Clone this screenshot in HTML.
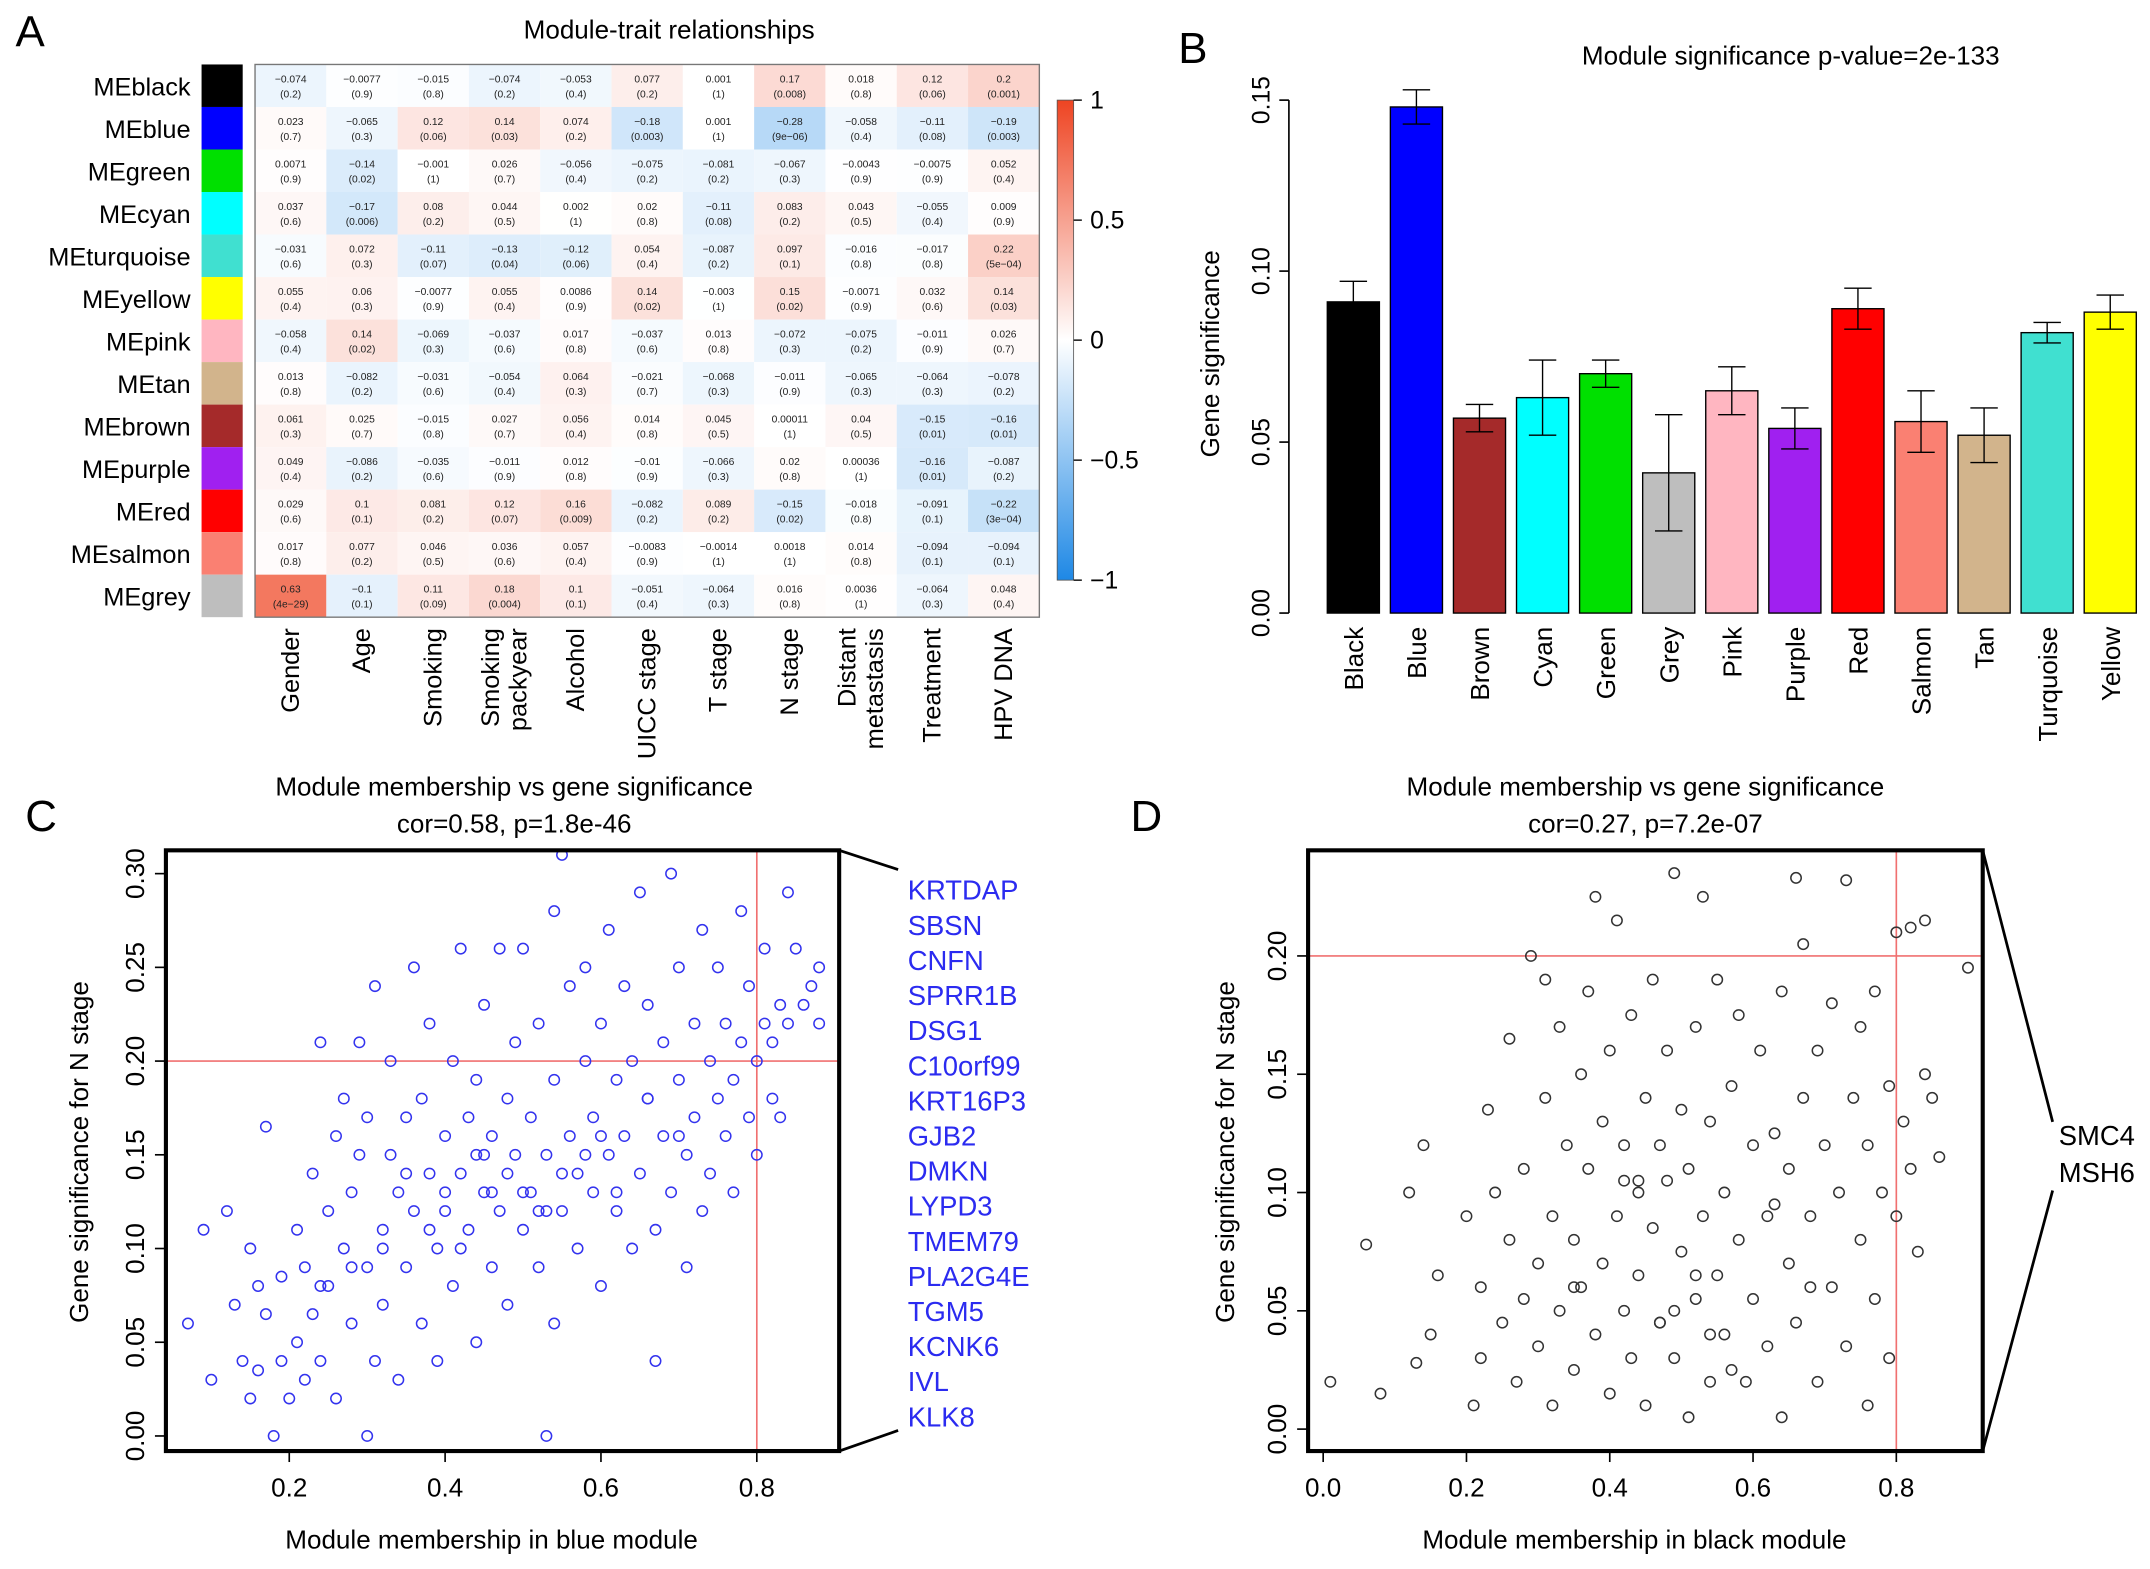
<!DOCTYPE html>
<html><head><meta charset="utf-8"><style>
html,body{margin:0;padding:0;background:#fff;}
svg{display:block;font-family:"Liberation Sans",Arial,sans-serif;}
</style></head><body>
<svg id="fig" width="2150" height="1569" viewBox="0 0 1568 1144" preserveAspectRatio="none" xmlns="http://www.w3.org/2000/svg">
<rect width="1568" height="1144" fill="#fff"/>
<g id="pA"></g>
<g id="pB"></g>
<g id="pC"></g>
<g id="pD"></g>
</svg>
<script>
// ---------- Panel A data ----------
const modules = ["MEblack","MEblue","MEgreen","MEcyan","MEturquoise","MEyellow","MEpink","MEtan","MEbrown","MEpurple","MEred","MEsalmon","MEgrey"];
const moduleColors = ["#000000","#0000ff","#00e000","#00ffff","#40e0d0","#ffff00","#ffb6c1","#d2b48c","#a52a2a","#a020f0","#ff0000","#fa8072","#bebebe"];
const traits = [["Gender"],["Age"],["Smoking"],["Smoking","packyear"],["Alcohol"],["UICC stage"],["T stage"],["N stage"],["Distant","metastasis"],["Treatment"],["HPV DNA"]];
const corVals = [
["-0.074","-0.0077","-0.015","-0.074","-0.053","0.077","0.001","0.17","0.018","0.12","0.2"],
["0.023","-0.065","0.12","0.14","0.074","-0.18","0.001","-0.28","-0.058","-0.11","-0.19"],
["0.0071","-0.14","-0.001","0.026","-0.056","-0.075","-0.081","-0.067","-0.0043","-0.0075","0.052"],
["0.037","-0.17","0.08","0.044","0.002","0.02","-0.11","0.083","0.043","-0.055","0.009"],
["-0.031","0.072","-0.11","-0.13","-0.12","0.054","-0.087","0.097","-0.016","-0.017","0.22"],
["0.055","0.06","-0.0077","0.055","0.0086","0.14","-0.003","0.15","-0.0071","0.032","0.14"],
["-0.058","0.14","-0.069","-0.037","0.017","-0.037","0.013","-0.072","-0.075","-0.011","0.026"],
["0.013","-0.082","-0.031","-0.054","0.064","-0.021","-0.068","-0.011","-0.065","-0.064","-0.078"],
["0.061","0.025","-0.015","0.027","0.056","0.014","0.045","0.00011","0.04","-0.15","-0.16"],
["0.049","-0.086","-0.035","-0.011","0.012","-0.01","-0.066","0.02","0.00036","-0.16","-0.087"],
["0.029","0.1","0.081","0.12","0.16","-0.082","0.089","-0.15","-0.018","-0.091","-0.22"],
["0.017","0.077","0.046","0.036","0.057","-0.0083","-0.0014","0.0018","0.014","-0.094","-0.094"],
["0.63","-0.1","0.11","0.18","0.1","-0.051","-0.064","0.016","0.0036","-0.064","0.048"]];
const pVals = [
["0.2","0.9","0.8","0.2","0.4","0.2","1","0.008","0.8","0.06","0.001"],
["0.7","0.3","0.06","0.03","0.2","0.003","1","9e-06","0.4","0.08","0.003"],
["0.9","0.02","1","0.7","0.4","0.2","0.2","0.3","0.9","0.9","0.4"],
["0.6","0.006","0.2","0.5","1","0.8","0.08","0.2","0.5","0.4","0.9"],
["0.6","0.3","0.07","0.04","0.06","0.4","0.2","0.1","0.8","0.8","5e-04"],
["0.4","0.3","0.9","0.4","0.9","0.02","1","0.02","0.9","0.6","0.03"],
["0.4","0.02","0.3","0.6","0.8","0.6","0.8","0.3","0.2","0.9","0.7"],
["0.8","0.2","0.6","0.4","0.3","0.7","0.3","0.9","0.3","0.3","0.2"],
["0.3","0.7","0.8","0.7","0.4","0.8","0.5","1","0.5","0.01","0.01"],
["0.4","0.2","0.6","0.9","0.8","0.9","0.3","0.8","1","0.01","0.2"],
["0.6","0.1","0.2","0.07","0.009","0.2","0.2","0.02","0.8","0.1","3e-04"],
["0.8","0.2","0.5","0.6","0.4","0.9","1","1","0.8","0.1","0.1"],
["4e-29","0.1","0.09","0.004","0.1","0.4","0.3","0.8","1","0.3","0.4"]];
const cbTicks = [1,0.5,0,-0.5,-1];
const cbTickLabels = ["1","0.5","0","\u22120.5","\u22121"];

// ---------- Panel B data ----------
const barCats = ["Black","Blue","Brown","Cyan","Green","Grey","Pink","Purple","Red","Salmon","Tan","Turquoise","Yellow"];
const barColors = ["#000000","#0000ff","#a52a2a","#00ffff","#00e000","#bebebe","#ffb6c1","#a020f0","#ff0000","#fa8072","#d2b48c","#40e0d0","#ffff00"];
const barVals = [0.091,0.148,0.057,0.063,0.070,0.041,0.065,0.054,0.089,0.056,0.052,0.082,0.088];
const barErr = [0.006,0.005,0.004,0.011,0.004,0.017,0.007,0.006,0.006,0.009,0.008,0.003,0.005];
const bTicks = [0,0.05,0.10,0.15];
const bTickLabels = ["0.00","0.05","0.10","0.15"];

// ---------- Panel C data ----------
const cX = [0.07,0.09,0.10,0.12,0.13,0.14,0.15,0.15,0.16,0.16,0.17,0.17,0.18,0.19,0.19,0.20,0.21,0.21,0.22,0.22,0.23,0.23,0.24,0.24,0.25,0.25,0.26,0.26,0.27,0.27,0.28,0.28,0.29,0.29,0.30,0.30,0.30,0.31,0.31,0.32,0.32,0.33,0.33,0.34,0.34,0.35,0.35,0.36,0.36,0.37,0.37,0.38,0.38,0.39,0.39,0.40,0.40,0.41,0.41,0.42,0.42,0.43,0.43,0.44,0.44,0.45,0.45,0.46,0.46,0.47,0.47,0.48,0.48,0.49,0.49,0.50,0.50,0.51,0.51,0.52,0.52,0.53,0.53,0.54,0.54,0.54,0.55,0.55,0.56,0.56,0.57,0.57,0.58,0.58,0.59,0.59,0.60,0.60,0.61,0.61,0.62,0.62,0.63,0.63,0.64,0.64,0.65,0.65,0.66,0.66,0.67,0.67,0.68,0.68,0.69,0.69,0.70,0.70,0.71,0.71,0.72,0.72,0.73,0.73,0.74,0.74,0.75,0.75,0.76,0.76,0.77,0.77,0.78,0.78,0.79,0.79,0.80,0.80,0.81,0.81,0.82,0.82,0.83,0.83,0.84,0.84,0.85,0.86,0.87,0.88,0.88,0.35,0.40,0.45,0.50,0.55,0.60,0.42,0.48,0.52,0.58,0.62,0.38,0.44,0.46,0.53,0.66,0.70,0.28,0.32,0.24];
const cY = [0.06,0.11,0.03,0.12,0.07,0.04,0.10,0.02,0.08,0.035,0.065,0.165,0.00,0.04,0.085,0.02,0.11,0.05,0.09,0.03,0.14,0.065,0.21,0.04,0.12,0.08,0.16,0.02,0.18,0.10,0.06,0.13,0.21,0.15,0.00,0.09,0.17,0.04,0.24,0.11,0.07,0.15,0.20,0.13,0.03,0.09,0.17,0.25,0.12,0.06,0.18,0.14,0.22,0.10,0.04,0.16,0.13,0.20,0.08,0.26,0.14,0.11,0.17,0.05,0.19,0.13,0.23,0.09,0.16,0.26,0.12,0.18,0.07,0.15,0.21,0.11,0.26,0.17,0.13,0.09,0.22,0.15,0.00,0.28,0.06,0.19,0.12,0.31,0.16,0.24,0.14,0.10,0.20,0.25,0.13,0.17,0.22,0.08,0.15,0.27,0.19,0.12,0.24,0.16,0.20,0.10,0.29,0.14,0.18,0.23,0.11,0.04,0.21,0.16,0.30,0.13,0.19,0.25,0.15,0.09,0.22,0.17,0.12,0.27,0.20,0.14,0.25,0.18,0.16,0.22,0.13,0.19,0.28,0.21,0.17,0.24,0.20,0.15,0.22,0.26,0.18,0.21,0.23,0.17,0.29,0.22,0.26,0.23,0.24,0.25,0.22,0.14,0.12,0.15,0.13,0.14,0.16,0.10,0.14,0.12,0.15,0.13,0.11,0.15,0.13,0.12,0.18,0.16,0.09,0.10,0.08];
const cTicksX = [0.2,0.4,0.6,0.8];
const cTicksY = [0,0.05,0.10,0.15,0.20,0.25,0.30];
const cTickLabelsY = ["0.00","0.05","0.10","0.15","0.20","0.25","0.30"];
const cGenes = ["KRTDAP","SBSN","CNFN","SPRR1B","DSG1","C10orf99","KRT16P3","GJB2","DMKN","LYPD3","TMEM79","PLA2G4E","TGM5","KCNK6","IVL","KLK8"];

// ---------- Panel D data ----------
const dX = [0.01,0.06,0.08,0.12,0.13,0.14,0.15,0.16,0.20,0.21,0.22,0.22,0.23,0.24,0.25,0.26,0.26,0.27,0.28,0.28,0.29,0.30,0.30,0.31,0.31,0.32,0.32,0.33,0.33,0.34,0.35,0.35,0.36,0.36,0.37,0.37,0.38,0.38,0.39,0.39,0.40,0.40,0.41,0.41,0.42,0.42,0.43,0.43,0.44,0.44,0.45,0.45,0.46,0.46,0.47,0.47,0.48,0.48,0.49,0.49,0.50,0.50,0.51,0.51,0.52,0.52,0.53,0.53,0.54,0.54,0.55,0.55,0.56,0.56,0.57,0.58,0.58,0.59,0.60,0.60,0.61,0.62,0.62,0.63,0.64,0.64,0.65,0.65,0.66,0.66,0.67,0.67,0.68,0.69,0.69,0.70,0.71,0.71,0.72,0.73,0.73,0.74,0.75,0.75,0.76,0.76,0.77,0.77,0.78,0.79,0.79,0.80,0.80,0.81,0.82,0.82,0.83,0.84,0.84,0.85,0.86,0.90,0.35,0.42,0.47,0.52,0.57,0.63,0.68,0.44,0.49,0.54];
const dY = [0.02,0.078,0.015,0.10,0.028,0.12,0.04,0.065,0.09,0.01,0.06,0.03,0.135,0.10,0.045,0.08,0.165,0.02,0.11,0.055,0.20,0.07,0.035,0.14,0.19,0.09,0.01,0.17,0.05,0.12,0.025,0.08,0.15,0.06,0.185,0.11,0.04,0.225,0.13,0.07,0.015,0.16,0.09,0.215,0.05,0.12,0.03,0.175,0.10,0.065,0.14,0.01,0.19,0.085,0.12,0.045,0.105,0.16,0.235,0.03,0.075,0.135,0.005,0.11,0.17,0.055,0.225,0.09,0.02,0.13,0.065,0.19,0.10,0.04,0.145,0.08,0.175,0.02,0.12,0.055,0.16,0.09,0.035,0.125,0.005,0.185,0.07,0.11,0.233,0.045,0.205,0.14,0.09,0.02,0.16,0.12,0.06,0.18,0.10,0.232,0.035,0.14,0.08,0.17,0.01,0.12,0.055,0.185,0.10,0.145,0.03,0.09,0.21,0.13,0.212,0.11,0.075,0.15,0.215,0.14,0.115,0.195,0.06,0.105,0.045,0.065,0.025,0.095,0.06,0.105,0.05,0.04];
const dTicksX = [0,0.2,0.4,0.6,0.8];
const dTicksY = [0,0.05,0.10,0.15,0.20];
const dTickLabelsY = ["0.00","0.05","0.10","0.15","0.20"];
const dGenes = ["SMC4","MSH6"];

// ---------- helpers ----------
const NS = "http://www.w3.org/2000/svg";
function mk(parent, tag, attrs, text){
  const e = document.createElementNS(NS, tag);
  for (const k in attrs) e.setAttribute(k, attrs[k]);
  if (text !== undefined) e.textContent = text;
  parent.appendChild(e);
  return e;
}
function mix(v){
  const a = Math.min(1, Math.abs(v)*1.15);
  const c = v >= 0 ? [238,68,34] : [30,136,229];
  return "rgb(" + c.map(x => Math.round(255 + (x-255)*a)).join(",") + ")";
}
const svg = document.getElementById("fig");

// ---------- Panel A ----------
const pA = document.getElementById("pA");
let t = mk(pA,"text",{x:22,y:34,"font-size":32,"text-anchor":"middle"},"A");


t = mk(pA,"text",{x:488,y:28,"font-size":19,"text-anchor":"middle"},"Module-trait relationships");


const hx0=186, hy0=47, cw=52, ch=31;
modules.forEach((m,i)=>{
  const y = hy0 + i*ch;
  const sw = mk(pA,"rect",{x:147,y:y,width:30,height:ch,fill:moduleColors[i]});
  
  
  const lb = mk(pA,"text",{x:139,y:y+ch/2+7,"font-size":18.5,"text-anchor":"end"},m);
  
  
  traits.forEach((tr,j)=>{
    const x = hx0 + j*cw;
    const v = parseFloat(corVals[i][j]);
    const c = mk(pA,"rect",{x:x,y:y,width:cw,height:ch,fill:mix(v)});
    
    
    const t1 = mk(pA,"text",{x:x+cw/2,y:y+13,"font-size":7.5,"text-anchor":"middle",fill:"#222"},corVals[i][j].replace("-","\u2212"));
    
    
    const t2 = mk(pA,"text",{x:x+cw/2,y:y+24,"font-size":7.5,"text-anchor":"middle",fill:"#222"},"("+pVals[i][j].replace("-","\u2212")+")");
    
    
  });
});
const hb = mk(pA,"rect",{x:hx0,y:hy0,width:cw*11,height:ch*13,fill:"none",stroke:"#777","stroke-width":1});


traits.forEach((tr,j)=>{
  const cx = hx0 + j*cw + cw/2;
  tr.forEach((line,k)=>{
    const off = (k - (tr.length-1)/2) * 20;
    const tl = mk(pA,"text",{x:0,y:0,"font-size":18.5,"text-anchor":"end",transform:"translate("+(cx+off+6)+",458) rotate(-90)"},line);
    
    
  });
});
// colorbar
const grad = mk(svg,"defs",{});
const lg = mk(grad,"linearGradient",{id:"cbg",x1:0,y1:0,x2:0,y2:1});
[[0,"rgb(238,68,34)"],[0.5,"#ffffff"],[1,"rgb(30,136,229)"]].forEach(s=>mk(lg,"stop",{offset:s[0],"stop-color":s[1]}));
const cbTop=73, cbBot=423;
const cbScale = v => cbTop + (1-v)/2*(cbBot-cbTop);
const cb = mk(pA,"rect",{x:771,y:cbTop,width:12,height:cbBot-cbTop,fill:"url(#cbg)",stroke:"#555","stroke-width":0.6});


cbTicks.forEach((v,i)=>{
  const y = cbScale(v);
  mk(pA,"line",{x1:783,x2:789,y1:y,y2:y,stroke:"#000","stroke-width":1});
  const tl = mk(pA,"text",{x:795,y:y+6,"font-size":18},cbTickLabels[i]);
  
  
});

// ---------- Panel B ----------
const pB = document.getElementById("pB");
t = mk(pB,"text",{x:870,y:46,"font-size":32,"text-anchor":"middle"},"B");


t = mk(pB,"text",{x:1306,y:47,"font-size":19,"text-anchor":"middle"},"Module significance p-value=2e-133");


const bY0=447, bY15=73;
const by = v => bY0 - v/0.15*(bY0-bY15);
const bx = i => 987 + i*46;
mk(pB,"line",{x1:940,x2:940,y1:by(0),y2:by(0.15),stroke:"#000","stroke-width":1.2});
bTicks.forEach((v,i)=>{
  mk(pB,"line",{x1:933,x2:940,y1:by(v),y2:by(v),stroke:"#000","stroke-width":1.2});
  const tl = mk(pB,"text",{x:0,y:0,"font-size":18,"text-anchor":"middle",transform:"translate(926,"+by(v)+") rotate(-90)"},bTickLabels[i]);
  
  
});
t = mk(pB,"text",{x:0,y:0,"font-size":19,"text-anchor":"middle",transform:"translate(889,258) rotate(-90)"},"Gene significance");


barCats.forEach((c,i)=>{
  const x = bx(i);
  const r = mk(pB,"rect",{x:x-19,y:by(barVals[i]),width:38,height:by(0)-by(barVals[i]),fill:barColors[i],stroke:"#000","stroke-width":1});
  
  
  const yt = by(barVals[i]+barErr[i]), yb = by(barVals[i]-barErr[i]);
  const eb = mk(pB,"path",{d:"M"+x+","+yt+"V"+yb+"M"+(x-10)+","+yt+"H"+(x+10)+"M"+(x-10)+","+yb+"H"+(x+10),stroke:"#000","stroke-width":1,fill:"none"});
  
  
  const tl = mk(pB,"text",{x:0,y:0,"font-size":19,"text-anchor":"end",transform:"translate("+(x+7)+",457) rotate(-90)"},c);
  
  
});

// ---------- scatter builder ----------
function scatter(g, cfg){
  const sx = v => cfg.x0px + v*cfg.xpu;
  const sy = v => cfg.y0px - v*cfg.ypu;
  let e = mk(g,"text",{x:cfg.letterX,y:606,"font-size":32,"text-anchor":"middle"},cfg.letter);
  
  
  e = mk(g,"text",{x:cfg.titleX,y:580,"font-size":19,"text-anchor":"middle"},"Module membership vs gene significance");
  
  
  e = mk(g,"text",{x:cfg.titleX,y:607,"font-size":19,"text-anchor":"middle"},cfg.sub);
  
  
  mk(g,"line",{x1:cfg.bx1,x2:cfg.bx2,y1:sy(0.2),y2:sy(0.2),stroke:"#f07070","stroke-width":1.2});
  mk(g,"line",{x1:sx(0.8),x2:sx(0.8),y1:cfg.by1,y2:cfg.by2,stroke:"#f07070","stroke-width":1.2});
  cfg.xs.forEach((xv,i)=>{
    const p = mk(g,"circle",{cx:sx(xv),cy:sy(cfg.ys[i]),r:3.8,fill:"none",stroke:cfg.col,"stroke-width":1.1});
    
    
  });
  e = mk(g,"rect",{x:cfg.bx1,y:cfg.by1,width:cfg.bx2-cfg.bx1,height:cfg.by2-cfg.by1,fill:"none",stroke:"#000","stroke-width":3});
  
  
  cfg.tx.forEach(v=>{
    mk(g,"line",{x1:sx(v),x2:sx(v),y1:cfg.by2,y2:cfg.by2+8,stroke:"#000","stroke-width":1.2});
    const tl = mk(g,"text",{x:sx(v),y:cfg.by2+33,"font-size":19,"text-anchor":"middle"},v.toFixed(1));
    
    
  });
  cfg.ty.forEach((v,i)=>{
    mk(g,"line",{x1:cfg.bx1-8,x2:cfg.bx1,y1:sy(v),y2:sy(v),stroke:"#000","stroke-width":1.2});
    const tl = mk(g,"text",{x:0,y:0,"font-size":19,"text-anchor":"middle",transform:"translate("+(cfg.bx1-16)+","+sy(v)+") rotate(-90)"},cfg.tyl[i]);
    
    
  });
  e = mk(g,"text",{x:(cfg.bx1+cfg.bx2)/2-8,y:1129,"font-size":19,"text-anchor":"middle"},cfg.xlab);
  
  
  e = mk(g,"text",{x:0,y:0,"font-size":19,"text-anchor":"middle",transform:"translate("+cfg.ylabX+",840) rotate(-90)"},"Gene significance for N stage");
  
  
}

const pC = document.getElementById("pC");
scatter(pC,{letter:"C",letterX:30,titleX:375,sub:"cor=0.58, p=1.8e-46",x0px:97.3,xpu:568.3,y0px:1047,ypu:1366.7,
  bx1:121,bx2:612,by1:620,by2:1058,xs:cX,ys:cY,col:"#3333ee",tx:cTicksX,ty:cTicksY,tyl:cTickLabelsY,
  xlab:"Module membership in blue module",ylabX:64});
mk(pC,"path",{d:"M612,620L655,634M612,1058L655,1043",stroke:"#000","stroke-width":2,fill:"none"});
cGenes.forEach((g,i)=>{
  const tl = mk(pC,"text",{x:662,y:656+i*25.6,"font-size":20,fill:"#2b2bf0"},g);
  
  
});

const pD = document.getElementById("pD");
scatter(pD,{letter:"D",letterX:836,titleX:1200,sub:"cor=0.27, p=7.2e-07",x0px:965,xpu:522.5,y0px:1042,ypu:1725,
  bx1:954,bx2:1446,by1:620,by2:1058,xs:dX,ys:dY,col:"#333",tx:dTicksX,ty:dTicksY,tyl:dTickLabelsY,
  xlab:"Module membership in black module",ylabX:900});
mk(pD,"path",{d:"M1446,620L1497,818M1446,1058L1497,868",stroke:"#000","stroke-width":2,fill:"none"});
dGenes.forEach((g,i)=>{
  const tl = mk(pD,"text",{x:1557,y:835+i*27,"font-size":20,"text-anchor":"end"},g);
  
  
});
</script>
</body></html>
